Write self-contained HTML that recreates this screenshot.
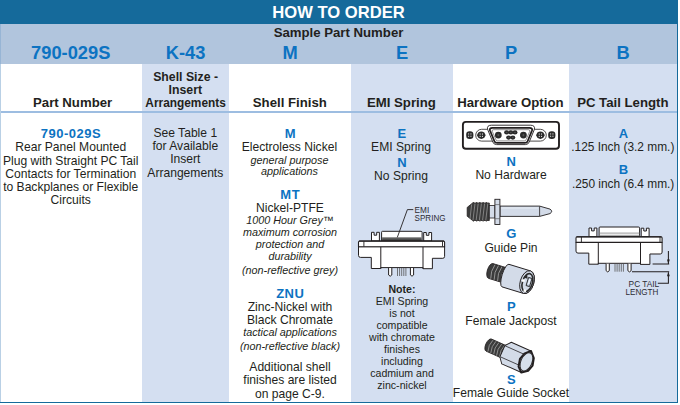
<!DOCTYPE html>
<html><head><meta charset="utf-8"><style>
html,body{margin:0;padding:0;background:#fff;}
body{width:680px;height:405px;position:relative;overflow:hidden;font-family:"Liberation Sans",sans-serif;}
.r{position:absolute;}
svg{position:absolute;left:0;top:0;}
</style></head><body>
<div class="r" style="left:0;top:0;width:678px;height:24px;background:#156a9b"></div>
<div class="r" style="left:0;top:24px;width:678px;height:39.6px;background:#b1c5dd"></div>
<div class="r" style="left:142px;top:63.6px;width:87px;height:338.4px;background:#d4dff1"></div>
<div class="r" style="left:351px;top:63.6px;width:102px;height:338.4px;background:#d4dff1"></div>
<div class="r" style="left:569px;top:63.6px;width:108px;height:338.4px;background:#d4dff1"></div>
<div class="r" style="left:0;top:111px;width:677px;height:2px;background:#9dbde1"></div>
<div class="r" style="left:0;top:24px;width:1px;height:39.6px;background:#97b5d5"></div>
<div class="r" style="left:0;top:63.6px;width:1px;height:338.4px;background:#b9d0e5"></div>
<div class="r" style="left:677px;top:0;width:1.3px;height:403px;background:#156a9b"></div>
<div class="r" style="left:0;top:401.8px;width:678px;height:1.3px;background:#156a9b"></div>
<svg width="680" height="405" viewBox="0 0 680 405" font-family="Liberation Sans, sans-serif" fill="#231f20" text-anchor="middle">
<text x="338.50" y="18.00" font-size="16.6" font-weight="bold" fill="#ffffff">HOW TO ORDER</text><text x="338.50" y="37.00" font-size="13.2" font-weight="bold">Sample Part Number</text><text x="70.70" y="59.00" font-size="18.3" font-weight="bold" fill="#0c73c2">790-029S</text><text x="185.50" y="59.00" font-size="18.3" font-weight="bold" fill="#0c73c2">K-43</text><text x="290.00" y="59.00" font-size="18.3" font-weight="bold" fill="#0c73c2">M</text><text x="402.00" y="59.00" font-size="18.3" font-weight="bold" fill="#0c73c2">E</text><text x="511.00" y="59.00" font-size="18.3" font-weight="bold" fill="#0c73c2">P</text><text x="623.00" y="59.00" font-size="18.3" font-weight="bold" fill="#0c73c2">B</text><text x="72.60" y="107.00" font-size="13.2" font-weight="bold">Part Number</text><text x="185.60" y="81.00" font-size="13.2" font-weight="bold" textLength="64.8" lengthAdjust="spacingAndGlyphs">Shell Size -</text><text x="185.30" y="94.00" font-size="13.2" font-weight="bold" textLength="33.5" lengthAdjust="spacingAndGlyphs">Insert</text><text x="185.60" y="107.00" font-size="13.2" font-weight="bold" textLength="80.5" lengthAdjust="spacingAndGlyphs">Arrangements</text><text x="289.80" y="107.00" font-size="13.2" font-weight="bold">Shell Finish</text><text x="401.40" y="107.00" font-size="13.2" font-weight="bold">EMI Spring</text><text x="510.40" y="107.00" font-size="13.2" font-weight="bold">Hardware Option</text><text x="622.80" y="107.00" font-size="13.2" font-weight="bold">PC Tail Length</text><text x="70.95" y="137.50" font-size="13" font-weight="bold" fill="#0c73c2" letter-spacing="0.5">790-029S</text><text x="70.70" y="151.40" font-size="12.1">Rear Panel Mounted</text><text x="70.70" y="164.55" font-size="12.1">Plug with Straight PC Tail</text><text x="70.70" y="177.70" font-size="12.1">Contacts for Termination</text><text x="70.70" y="190.85" font-size="12.1">to Backplanes or Flexible</text><text x="70.70" y="204.00" font-size="12.1">Circuits</text><text x="185.30" y="136.60" font-size="12.1">See Table 1</text><text x="185.30" y="150.00" font-size="12.1">for Available</text><text x="185.30" y="163.40" font-size="12.1">Insert</text><text x="185.30" y="176.90" font-size="12.1">Arrangements</text><text x="290.25" y="137.60" font-size="13" font-weight="bold" fill="#0c73c2">M</text><text x="289.40" y="150.90" font-size="12.1">Electroless Nickel</text><text x="289.50" y="163.70" font-size="10.8" font-style="italic">general purpose</text><text x="289.50" y="174.80" font-size="10.8" font-style="italic">applications</text><text x="290.25" y="199.00" font-size="13" font-weight="bold" fill="#0c73c2" letter-spacing="0.5">MT</text><text x="290.00" y="212.00" font-size="12.1">Nickel-PTFE</text><text x="290.00" y="224.00" font-size="10.8" font-style="italic">1000 Hour Grey™</text><text x="290.00" y="236.00" font-size="10.8" font-style="italic">maximum corrosion</text><text x="290.00" y="248.00" font-size="10.8" font-style="italic">protection and</text><text x="290.00" y="260.00" font-size="10.8" font-style="italic">durability</text><text x="290.00" y="274.40" font-size="10.8" font-style="italic">(non-reflective grey)</text><text x="290.25" y="297.60" font-size="13" font-weight="bold" fill="#0c73c2" letter-spacing="0.5">ZNU</text><text x="290.00" y="310.90" font-size="12.1">Zinc-Nickel with</text><text x="290.00" y="324.10" font-size="12.1">Black Chromate</text><text x="290.00" y="335.60" font-size="10.8" font-style="italic">tactical applications</text><text x="290.00" y="349.80" font-size="10.8" font-style="italic">(non-reflective black)</text><text x="290.00" y="371.20" font-size="12.1">Additional shell</text><text x="290.00" y="384.20" font-size="12.1">finishes are listed</text><text x="290.00" y="397.60" font-size="12.1">on page C-9.</text><text x="401.95" y="137.60" font-size="13" font-weight="bold" fill="#0c73c2">E</text><text x="401.00" y="151.10" font-size="12.1">EMI Spring</text><text x="401.95" y="166.70" font-size="13" font-weight="bold" fill="#0c73c2">N</text><text x="401.00" y="180.00" font-size="12.1">No Spring</text><text x="402.00" y="292.70" font-size="10.6" font-weight="bold">Note:</text><text x="402.00" y="305.20" font-size="10.6">EMI Spring</text><text x="402.00" y="317.13" font-size="10.6">is not</text><text x="402.00" y="329.06" font-size="10.6">compatible</text><text x="402.00" y="340.99" font-size="10.6">with chromate</text><text x="402.00" y="352.92" font-size="10.6">finishes</text><text x="402.00" y="364.85" font-size="10.6">including</text><text x="402.00" y="376.78" font-size="10.6">cadmium and</text><text x="402.00" y="388.71" font-size="10.6">zinc-nickel</text><text x="511.25" y="166.00" font-size="13" font-weight="bold" fill="#0c73c2">N</text><text x="511.00" y="179.20" font-size="12.1">No Hardware</text><text x="511.25" y="238.40" font-size="13" font-weight="bold" fill="#0c73c2">G</text><text x="511.00" y="252.20" font-size="12.1">Guide Pin</text><text x="511.25" y="310.70" font-size="13" font-weight="bold" fill="#0c73c2">P</text><text x="511.00" y="324.60" font-size="12.1">Female Jackpost</text><text x="511.25" y="384.00" font-size="13" font-weight="bold" fill="#0c73c2">S</text><text x="511.00" y="397.00" font-size="12.1">Female Guide Socket</text><text x="623.35" y="137.80" font-size="13" font-weight="bold" fill="#0c73c2">A</text><text x="622.80" y="150.70" font-size="11.9">.125 Inch (3.2 mm.)</text><text x="623.35" y="174.40" font-size="13" font-weight="bold" fill="#0c73c2">B</text><text x="623.10" y="187.80" font-size="11.9">.250 inch (6.4 mm.)</text>
</svg>
<svg width="680" height="405" viewBox="0 0 680 405" font-family="Liberation Sans, sans-serif"><g transform="translate(0,0)" fill="#fff" stroke="#231f20" stroke-width="1"><path d="M358.5,246.7 V255.4 Q358.5,257.4 360.5,257.4 H371.3 V268.5 H380.8 V267.6 H423 V268.7 H432.4 V258.3 H442.8 Q444.6,258.3 444.6,256.4 V246.7 Z"/><path d="M380.8,246.7 V268.5 M423,246.7 V268.7" fill="none"/><path d="M371.5,241 V232.3 H374.1 V235.2 H376.7 V232.3 H379.4 V241 Z"/><path d="M423.7,241 V232.5 H426.3 V235.3 H428.9 V232.5 H431.6 V241 Z"/><path d="M381.6,241 V232.2 Q381.6,231.3 382.5,231.3 H421 Q422.1,231.3 422.1,232.4 V241 Z"/><rect x="382.1" y="237.3" width="39.5" height="3.4" fill="#5c5c5c" stroke="none"/><rect x="382.1" y="237.1" width="39.5" height="0.8" fill="#9a9a9a" stroke="none"/><rect x="382.1" y="239.6" width="39.5" height="1.2" fill="#333" stroke="none"/><path d="M358.5,246.7 V242.2 Q358.5,241 359.7,241 H443.4 Q444.6,241 444.6,242.2 V246.7 Z" stroke-width="1.1"/><path d="M363.9,241.3 V246.5 M442.5,241.3 V246.5" stroke="#231f20" stroke-width="0.9" fill="none"/><path d="M359,241.2 H444" stroke-width="1.3" fill="none"/><path d="M388.6,268 V275 Q390.2,277.4 391.8,275 V268" /><path d="M410.4,268 V275 Q412,277.4 413.6,275 V268" /><path d="M397.5,268 V276 M399.6,268 V276 M401.7,268 V276 M403.8,268 V276 M405.9,268 V276" stroke="#555" stroke-width="0.8" fill="none"/></g><path d="M413.3,209.6 H407.4 L397.3,237.4" fill="none" stroke="#231f20" stroke-width="0.9"/><text x="414.6" y="213.2" font-size="8.7" textLength="14.6" lengthAdjust="spacingAndGlyphs" fill="#2c2c34">EMI</text><text x="414.6" y="220.7" font-size="8.7" textLength="30.9" lengthAdjust="spacingAndGlyphs" fill="#2c2c34">SPRING</text><g transform="translate(217.5,-4.3)" fill="#fff" stroke="#231f20" stroke-width="1"><path d="M358.5,246.7 V255.4 Q358.5,257.4 360.5,257.4 H371.3 V268.5 H380.8 V267.6 H423 V268.7 H432.4 V258.3 H442.8 Q444.6,258.3 444.6,256.4 V246.7 Z"/><path d="M380.8,246.7 V268.5 M423,246.7 V268.7" fill="none"/><path d="M371.5,241 V232.3 H374.1 V235.2 H376.7 V232.3 H379.4 V241 Z"/><path d="M423.7,241 V232.5 H426.3 V235.3 H428.9 V232.5 H431.6 V241 Z"/><path d="M381.6,241 V232.2 Q381.6,231.3 382.5,231.3 H421 Q422.1,231.3 422.1,232.4 V241 Z"/><path d="M381.6,237.4 H422.1 M381.6,239.6 H422.1" stroke="#808080" stroke-width="0.8" fill="none"/><path d="M358.5,246.7 V242.2 Q358.5,241 359.7,241 H443.4 Q444.6,241 444.6,242.2 V246.7 Z" stroke-width="1.1"/><path d="M363.9,241.3 V246.5 M442.5,241.3 V246.5" stroke="#231f20" stroke-width="0.9" fill="none"/><path d="M359,241.2 H444" stroke-width="1.3" fill="none"/><path d="M388.6,268 V275 Q390.2,277.4 391.8,275 V268" /><path d="M410.4,268 V275 Q412,277.4 413.6,275 V268" /><path d="M397.5,268 V276 M399.6,268 V276 M401.7,268 V276 M403.8,268 V276 M405.9,268 V276" stroke="#555" stroke-width="0.8" fill="none"/></g><path d="M652.6,264 H669.2 M668.4,251 V263.5 M632,271.8 H669.2 M668.4,272.5 V283.3 H657.8" fill="none" stroke="#231f20" stroke-width="1.05"/><path d="M667,259.5 L668.4,264 L669.8,259.5 Z M667,276.3 L668.4,271.8 L669.8,276.3 Z" fill="#231f20"/><text x="628.6" y="287.2" font-size="8.7" textLength="30.6" lengthAdjust="spacingAndGlyphs" fill="#2c2c34">PC TAIL</text><text x="625.6" y="295.2" font-size="8.7" textLength="32.8" lengthAdjust="spacingAndGlyphs" fill="#2c2c34">LENGTH</text><g fill="none" stroke="#231f20"><rect x="462.9" y="121.9" width="96.1" height="26.9" rx="3" stroke-width="1.9"/><path d="M492,129.3 H481.6 A5.9,5.9 0 0 0 481.6,141.1 H495" stroke-width="0.8"/><path d="M530,129.3 H540.4 A5.9,5.9 0 0 1 540.4,141.1 H527" stroke-width="0.8"/><path d="M491.5,125.2 H530.3 Q535.6,125.2 534.3,129.6 L529.2,142 Q528.3,144.6 525.4,144.6 H496.6 Q493.7,144.6 492.8,142 L487.7,129.6 Q486.4,125.2 491.5,125.2 Z" stroke-width="0.9" fill="#fff"/><path d="M492.3,127.9 H529.5 Q532.8,127.9 532,130.5 L527.6,141.2 Q527,142.9 525,142.9 H497 Q495,142.9 494.4,141.2 L490,130.5 Q489.2,127.9 492.3,127.9 Z" stroke-width="1.8"/><path d="M493.6,129.7 H528.4 Q530.3,129.7 529.8,131.2 L525.9,140 Q525.5,140.9 524.4,140.9 H497.6 Q496.5,140.9 496.1,140 L492.2,131.2 Q491.7,129.7 493.6,129.7 Z" stroke-width="0.5"/></g><rect x="466.20" y="131.20" width="7.2" height="7.8" rx="3.3" fill="#2a2a2a"/><rect x="468.15" y="133.45" width="1.0" height="1.0" fill="#fff"/><rect x="468.15" y="135.75" width="1.0" height="1.0" fill="#fff"/><rect x="470.45" y="133.45" width="1.0" height="1.0" fill="#fff"/><rect x="470.45" y="135.75" width="1.0" height="1.0" fill="#fff"/><rect x="548.20" y="131.20" width="7.2" height="7.8" rx="3.3" fill="#2a2a2a"/><rect x="550.15" y="133.45" width="1.0" height="1.0" fill="#fff"/><rect x="550.15" y="135.75" width="1.0" height="1.0" fill="#fff"/><rect x="552.45" y="133.45" width="1.0" height="1.0" fill="#fff"/><rect x="552.45" y="135.75" width="1.0" height="1.0" fill="#fff"/><path d="M476.90,135.2 L478.30,132.60 Q481.3,130.40 484.30,132.60 L485.70,135.2 L484.30,137.80 Q481.3,140.00 478.30,137.80 Z" fill="#2a2a2a"/><rect x="479.65" y="133.55" width="1.0" height="1.0" fill="#fff"/><rect x="479.65" y="135.85" width="1.0" height="1.0" fill="#fff"/><rect x="481.95" y="133.55" width="1.0" height="1.0" fill="#fff"/><rect x="481.95" y="135.85" width="1.0" height="1.0" fill="#fff"/><path d="M536.00,135.2 L537.40,132.60 Q540.4,130.40 543.40,132.60 L544.80,135.2 L543.40,137.80 Q540.4,140.00 537.40,137.80 Z" fill="#2a2a2a"/><rect x="538.75" y="133.55" width="1.0" height="1.0" fill="#fff"/><rect x="538.75" y="135.85" width="1.0" height="1.0" fill="#fff"/><rect x="541.05" y="133.55" width="1.0" height="1.0" fill="#fff"/><rect x="541.05" y="135.85" width="1.0" height="1.0" fill="#fff"/><circle cx="498.3" cy="135.1" r="3.4" fill="#2a2a2a"/><path d="M497.10,135.1 H499.50 M498.3,133.9 V136.3" stroke="#777" stroke-width="0.45"/><circle cx="523.4" cy="135.1" r="3.4" fill="#2a2a2a"/><path d="M522.20,135.1 H524.60 M523.4,133.9 V136.3" stroke="#777" stroke-width="0.45"/><ellipse cx="506.6" cy="132.4" rx="2.5" ry="2.1" fill="#2a2a2a"/><path d="M505.80,132.4 H507.40" stroke="#888" stroke-width="0.4"/><ellipse cx="510.8" cy="132.4" rx="2.5" ry="2.1" fill="#2a2a2a"/><path d="M510.00,132.4 H511.60" stroke="#888" stroke-width="0.4"/><ellipse cx="515.0" cy="132.4" rx="2.5" ry="2.1" fill="#2a2a2a"/><path d="M514.20,132.4 H515.80" stroke="#888" stroke-width="0.4"/><ellipse cx="508.6" cy="137.6" rx="2.5" ry="2.1" fill="#2a2a2a"/><path d="M507.80,137.6 H509.40" stroke="#888" stroke-width="0.4"/><ellipse cx="512.8" cy="137.6" rx="2.5" ry="2.1" fill="#2a2a2a"/><path d="M512.00,137.6 H513.60" stroke="#888" stroke-width="0.4"/><path d="M467.2,207.4 L472.6,203 L472.7,203 L473.5,202.2 L474.3,203 L475.9,203 L476.7,202.2 L477.5,203 L479.1,203 L479.9,202.2 L480.7,203 L482.3,203 L483.1,202.2 L483.9,203 L485.5,203 L486.3,202.2 L487.1,203 L489.3,203 L489.3,220.5 L487.1,220.5 L486.3,221.3 L485.5,220.5 L483.9,220.5 L483.1,221.3 L482.3,220.5 L480.7,220.5 L479.9,221.3 L479.1,220.5 L477.5,220.5 L476.7,221.3 L475.9,220.5 L474.3,220.5 L473.5,221.3 L472.7,220.5 L472.6,220.5 L467.2,216.2 Z" fill="#3b3b3b" stroke="#231f20" stroke-width="0.8" stroke-linejoin="round"/><path d="M475,203.5 L473,220 M478.2,203.5 L476.2,220 M481.4,203.5 L479.4,220 M484.6,203.5 L482.6,220 M487.8,203.5 L485.8,220 M471.6,204.5 L470,219" stroke="#9a9a9a" stroke-width="0.75"/><rect x="489.3" y="205.4" width="5.6" height="12.6" fill="#d3dbe8" stroke="#231f20" stroke-width="0.8"/><path d="M500,206.1 H539.6 L550,209.1 Q553.4,211.3 550,213.6 L539.6,216.4 H500 Z" fill="#d3dbe8" stroke="#231f20" stroke-width="0.9"/><path d="M539.6,206.3 V216.2" stroke="#231f20" stroke-width="0.8"/><path d="M501,208 H538" stroke="#eef2f8" stroke-width="0.8"/><rect x="494.9" y="199.3" width="5" height="25.2" fill="#d3dbe8" stroke="#231f20" stroke-width="0.9"/><path d="M495.1,204.6 H499.7 M495.1,218.7 H499.7" stroke="#444" stroke-width="0.6"/><g transform="translate(505.5,275.6) rotate(17)"><path d="M-15.5,-7.8 H2 V7.6 H-15.5 A3.4,7.7 0 0 1 -15.5,-7.8 Z" fill="#3b3b3b" stroke="#231f20" stroke-width="0.8"/><path d="M-13.2,-7.4 Q-15.8,0 -13.2,7.3 M-9.6,-7.5 Q-12.2,0 -9.6,7.4 M-6,-7.5 Q-8.6,0 -6,7.4 M-2.4,-7.5 Q-5,0 -2.4,7.4" fill="none" stroke="#a0a0a0" stroke-width="0.8"/><path d="M0,-11.8 H22.5 A6.8,11.8 0 0 1 22.5,11.8 H0 A3.5,11.8 0 0 1 0,-11.8 Z" fill="#d3dbe8" stroke="#231f20" stroke-width="0.9"/><ellipse cx="22.5" cy="0" rx="6.8" ry="11.8" fill="#d3dbe8" stroke="#231f20" stroke-width="0.9"/><ellipse cx="23" cy="0.3" rx="5" ry="9.3" fill="none" stroke="#2a2a2a" stroke-width="1.6"/><path d="M17.6,-3.5 L20,-8.5 L22,-3.5 Z" fill="#2a2a2a"/><rect x="17.2" y="-1.8" width="2.6" height="2.6" fill="#fff" transform="rotate(-17 18.5 -0.5)"/><rect x="21.6" y="7.6" width="2.6" height="2.4" fill="#fff"/><rect x="22.6" y="-5" width="3.6" height="8.5" fill="#bcc9dc" stroke="#2a2a2a" stroke-width="0.9"/><rect x="23.6" y="-3.8" width="1.6" height="5.5" fill="#eef3fa" stroke="none"/></g><g transform="translate(505.6,352.6) rotate(24)"><path d="M-18.5,-6.6 H1 V6.6 H-18.5 A3,6.6 0 0 1 -18.5,-6.6 Z" fill="#3b3b3b" stroke="#231f20" stroke-width="0.8"/><path d="M-16.6,-6.2 Q-19,0 -16.6,6.2 M-13.4,-6.4 Q-15.8,0 -13.4,6.4 M-10.2,-6.4 Q-12.6,0 -10.2,6.4 M-7,-6.4 Q-9.4,0 -7,6.4 M-3.8,-6.4 Q-6.2,0 -3.8,6.4" fill="none" stroke="#a0a0a0" stroke-width="0.75"/><path d="M1,-11.8 H22.5 L22.5,11.8 H1 L-3.5,6.2 L-3.5,-6.2 Z" fill="#d3dbe8" stroke="#231f20" stroke-width="0.9" stroke-linejoin="round"/><path d="M-3.2,-6 H22.5 M-3.2,6 H22.5" stroke="#231f20" stroke-width="0.7"/><path d="M22.5,-11.8 L28,-6.5 L30,1 L28,7.5 L22.5,11.8 L17.5,7.5 L15.7,0 L17.5,-6.5 Z" fill="#d3dbe8" stroke="#231f20" stroke-width="2" stroke-linejoin="round"/><ellipse cx="22.8" cy="0" rx="5.6" ry="9.6" fill="#d6dfeb" stroke="#231f20" stroke-width="1"/></g></svg>
</body></html>
